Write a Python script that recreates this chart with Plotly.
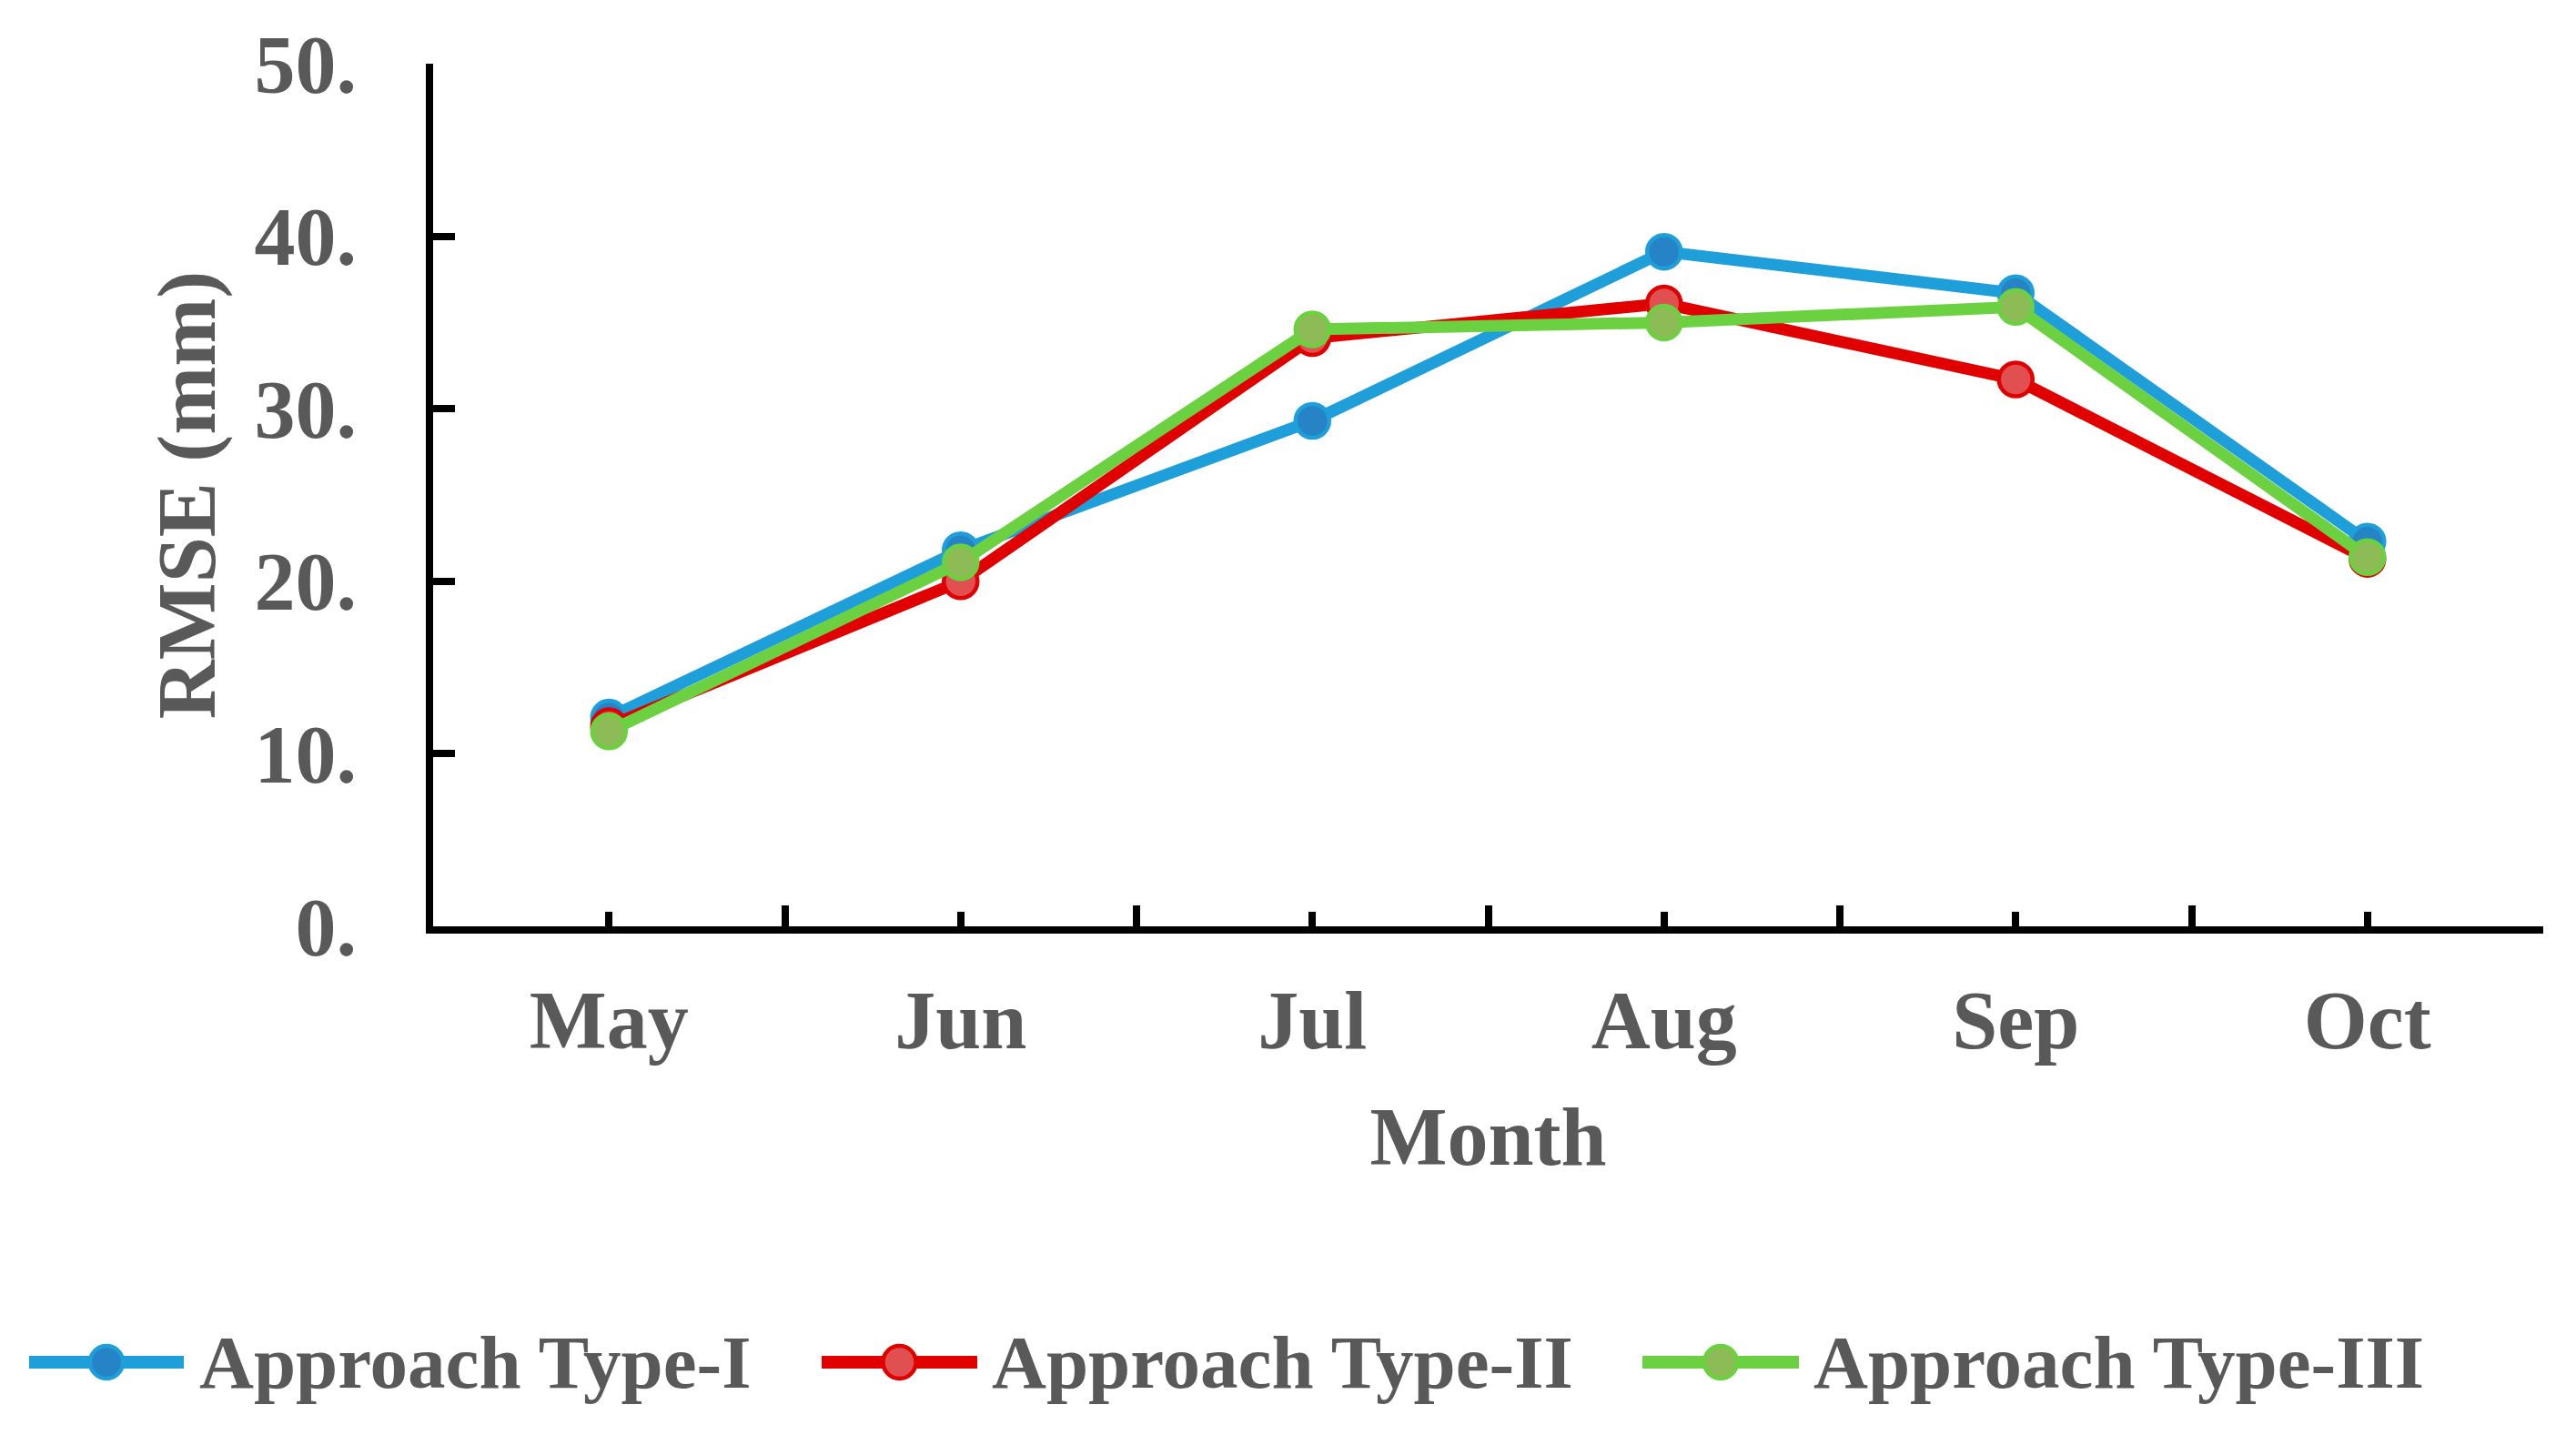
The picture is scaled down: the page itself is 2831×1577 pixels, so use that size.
import plotly.graph_objects as go

# values
months = ["May", "Jun", "Jul", "Aug", "Sep", "Oct"]
type_1 = [12.1, 21.8, 29.3, 39.1, 36.7, 22.3]
type_2 = [11.6, 20.0, 34.1, 36.1, 31.7, 21.3]
type_3 = [11.3, 21.1, 34.6, 35.0, 35.9, 21.4]
series_names = ["Approach Type-I", "Approach Type-II", "Approach Type-III"]
y_ticks = [0, 10, 20, 30, 40, 50]
y_tick_text = ["0.", "10.", "20.", "30.", "40.", "50."]

line_colors = ["#1E9FDA", "#E00000", "#6CD141"]
fill_colors = ["#2683C6", "#E05050", "#8DBB55"]

# target page geometry (absolute pixels); the html body adds an 8px margin
W, H = 2831, 1577
L, R, T, B = 476, 36, 70, 559
PAD = 8
FONT = "Liberation Serif"
GREY = "#595959"


def px_x(p):
    return (p - L) / (W - L - R)


def px_y(p):
    return (H - B - p) / (H - T - B)


def bold(size):
    return dict(family=FONT, size=size, color=GREY, weight="bold")


fig = go.Figure()
for name, vals, lc, fc in zip(series_names, [type_1, type_2, type_3], line_colors, fill_colors):
    fig.add_trace(go.Scatter(
        x=months, y=vals, name=name, mode="lines+markers",
        line=dict(color=lc, width=13),
        marker=dict(size=37, color=fc, line=dict(color=lc, width=4.5)),
        showlegend=False,
    ))

# invisible copy on x2 so the centre ticks get drawn
fig.add_trace(go.Scatter(x=months, y=type_1, xaxis="x2", mode="lines",
                         line=dict(width=0), opacity=0, hoverinfo="skip",
                         showlegend=False))

# hand-drawn legend with long line samples like the original
legend_items = [(32, 202, 217), (903, 1074, 1088), (1805, 1977, 1991)]
ly = 1497
for (x0, x1, xt), name, lc, fc in zip(legend_items, series_names, line_colors, fill_colors):
    fig.add_shape(type="line", xref="paper", yref="paper",
                  x0=px_x(x0), x1=px_x(x1), y0=px_y(ly), y1=px_y(ly),
                  line=dict(color=lc, width=14))
    xc = (x0 + x1) / 2
    fig.add_shape(type="circle", xref="paper", yref="paper",
                  x0=px_x(xc - 18), x1=px_x(xc + 18), y0=px_y(ly - 18), y1=px_y(ly + 18),
                  fillcolor=fc, line=dict(color=lc, width=4.5))
    fig.add_annotation(text=name, xref="paper", yref="paper", x=px_x(xt), y=px_y(ly),
                       xanchor="left", yanchor="middle", showarrow=False,
                       font=bold(83))

fig.update_layout(
    width=W - 2 * PAD, height=H - 2 * PAD,
    margin=dict(l=L - PAD, r=R - PAD, t=T - PAD, b=B - PAD, autoexpand=False),
    paper_bgcolor="white", plot_bgcolor="white",
    font=bold(90),
    xaxis=dict(
        type="category", range=[-0.5, 5.5],
        showline=True, linecolor="black", linewidth=8,
        ticks="inside", tickson="boundaries", ticklen=23, tickwidth=8, tickcolor="black",
        showgrid=False, zeroline=False,
        ticklabelstandoff=18,
        tickfont=bold(90),
        title=dict(text="Month", standoff=50, font=bold(90)),
    ),
    xaxis2=dict(
        type="category", overlaying="x", range=[-0.5, 5.5],
        ticks="inside", ticklen=16, tickwidth=8, tickcolor="black",
        showticklabels=False, showline=False, showgrid=False, zeroline=False,
    ),
    yaxis=dict(
        range=[0, 50], tickvals=y_ticks, ticktext=y_tick_text,
        showline=True, linecolor="black", linewidth=8,
        ticks="inside", ticklen=24, tickwidth=8, tickcolor="black",
        showgrid=False, zeroline=False,
        ticklabelstandoff=58,
        tickfont=bold(90),
        title=dict(text="RMSE (mm)", standoff=16, font=bold(90)),
    ),
)

fig.write_html("out.html")
